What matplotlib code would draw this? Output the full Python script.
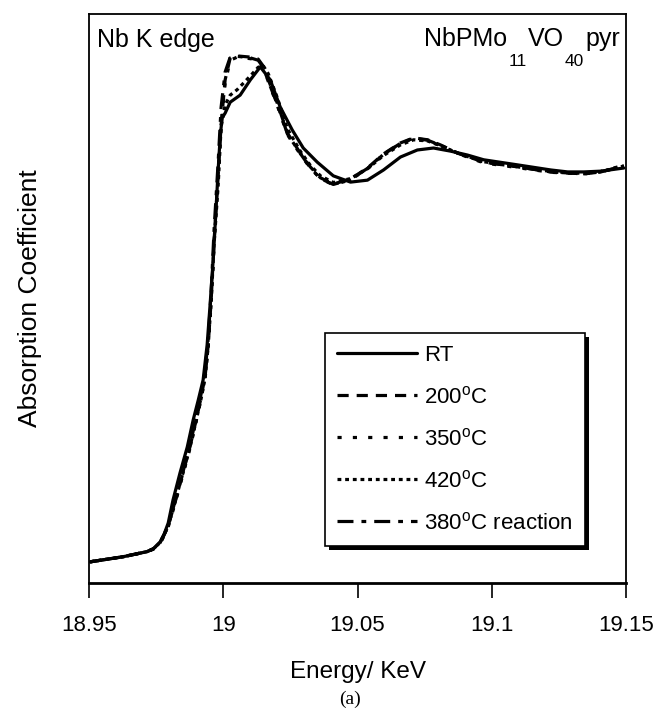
import matplotlib
matplotlib.use("Agg")
import matplotlib.pyplot as plt
from matplotlib.patches import Rectangle
from matplotlib.transforms import IdentityTransform

plt.rcParams['font.family'] = ['Liberation Sans', 'DejaVu Sans']
plt.rcParams['mathtext.fontset'] = 'custom'
plt.rcParams['mathtext.rm'] = 'Liberation Sans'
plt.rcParams['mathtext.it'] = 'Liberation Sans:italic'
plt.rcParams['mathtext.bf'] = 'Liberation Sans:bold'

# ---------------- data (energy in keV, normalised absorption) ----------------
energy_rt = [18.9504, 18.9627, 18.9716, 18.9739, 18.9765, 18.9780, 18.9795, 18.9813,
             18.9839, 18.9866, 18.9888, 18.9907, 18.9925, 18.9940, 18.9951, 18.9963,
             18.9974, 18.9981, 18.9989, 18.9996, 19.0007, 19.0026, 19.0063, 19.0101,
             19.0138, 19.0175, 19.0212, 19.0257, 19.0298, 19.0350, 19.0410, 19.0474,
             19.0537, 19.0597, 19.0660, 19.0723, 19.0783, 19.0847, 19.0910, 19.0970,
             19.1096, 19.1220, 19.1283, 19.1343, 19.1406, 19.1492]
mu_rt = [0.000, 0.013, 0.026, 0.033, 0.051, 0.071, 0.099, 0.158,
         0.227, 0.293, 0.362, 0.413, 0.464, 0.554, 0.656, 0.776,
         0.911, 1.000, 1.089, 1.133, 1.145, 1.173, 1.191, 1.230,
         1.263, 1.230, 1.161, 1.102, 1.056, 1.020, 0.985, 0.969,
         0.974, 1.000, 1.033, 1.051, 1.056, 1.048, 1.038, 1.026,
         1.013, 1.000, 0.995, 0.995, 0.997, 1.005]

energy_hot = [18.9504, 18.9627, 18.9716, 18.9739, 18.9765, 18.9780, 18.9795, 18.9821,
              18.9851, 18.9877, 18.9899, 18.9918, 18.9933, 18.9944, 18.9955, 18.9966,
              18.9981, 18.9992, 19.0007, 19.0026, 19.0052, 19.0101, 19.0130, 19.0149,
              19.0168, 19.0201, 19.0239, 19.0287, 19.0324, 19.0362, 19.0410, 19.0474,
              19.0537, 19.0597, 19.0660, 19.0709, 19.0761, 19.0809, 19.0873, 19.0970,
              19.1096, 19.1220, 19.1343, 19.1406, 19.1492]
mu_200 = [0.000, 0.013, 0.026, 0.033, 0.048, 0.069, 0.092, 0.153, 0.230, 0.296,
          0.362, 0.421, 0.477, 0.554, 0.668, 0.821, 0.987, 1.115, 1.230, 1.286,
          1.291, 1.288, 1.283, 1.265, 1.230, 1.171, 1.094, 1.043, 1.008, 0.980,
          0.964, 0.977, 1.005, 1.041, 1.069, 1.082, 1.077, 1.064, 1.043, 1.020,
          1.008, 0.995, 0.990, 0.995, 1.010]
mu_350 = [0.000, 0.013, 0.026, 0.032, 0.047, 0.067, 0.089, 0.150, 0.226, 0.292,
          0.358, 0.418, 0.474, 0.550, 0.662, 0.815, 0.980, 1.108, 1.222, 1.280,
          1.288, 1.284, 1.280, 1.262, 1.225, 1.165, 1.090, 1.040, 1.005, 0.978,
          0.962, 0.975, 1.003, 1.040, 1.068, 1.080, 1.075, 1.062, 1.042, 1.018,
          1.006, 0.994, 0.990, 0.996, 1.012]
mu_420 = [0.000, 0.013, 0.026, 0.033, 0.049, 0.070, 0.092, 0.155, 0.229, 0.295,
          0.360, 0.418, 0.472, 0.552, 0.664, 0.812, 0.960, 1.110, 1.166, 1.191,
          1.205, 1.240, 1.262, 1.266, 1.245, 1.185, 1.105, 1.048, 1.012, 0.985,
          0.968, 0.978, 1.003, 1.037, 1.064, 1.077, 1.074, 1.062, 1.043, 1.021,
          1.009, 0.996, 0.991, 0.996, 1.010]
mu_380r = [0.000, 0.013, 0.026, 0.033, 0.049, 0.070, 0.091, 0.156, 0.232, 0.300,
           0.368, 0.430, 0.490, 0.570, 0.690, 0.850, 1.020, 1.160, 1.250, 1.288,
           1.290, 1.286, 1.280, 1.262, 1.226, 1.168, 1.092, 1.042, 1.006, 0.978,
           0.963, 0.976, 1.004, 1.040, 1.068, 1.081, 1.076, 1.063, 1.043, 1.020,
           1.008, 0.995, 0.990, 0.995, 1.010]

xticks = [18.95, 19.0, 19.05, 19.1, 19.15]
xtick_labels = ["18.95", "19", "19.05", "19.1", "19.15"]

series = [
    ("RT", energy_rt, mu_rt, "-"),
    ("200$^{\\mathrm{o}}$C", energy_hot, mu_200, (0, (3.5, 2.5))),
    ("350$^{\\mathrm{o}}$C", energy_hot, mu_350, (0, (1.3, 3.5))),
    ("420$^{\\mathrm{o}}$C", energy_hot, mu_420, (0, (1.2, 1.2))),
    ("380$^{\\mathrm{o}}$C reaction", energy_hot, mu_380r, (0, (5, 2.5, 1.5, 2.5))),
]

# ---------------- figure ----------------
W, H = 657, 710
fig = plt.figure(figsize=(W / 100, H / 100), dpi=100)
ax = fig.add_axes([89 / W, 1 - 583 / H, 537 / W, 569 / H])

for label, e, m, ls in series:
    ax.plot(e, m, color="black", lw=2.3, linestyle=ls, label=label,
            dash_capstyle="butt", solid_capstyle="round", solid_joinstyle="round")

ax.set_xlim(18.95, 19.15)
ax.set_ylim(-0.054, 1.398)
ax.set_xticks(xticks)
ax.set_xticklabels(xtick_labels, fontsize=16)
ax.set_yticks([])
ax.tick_params(axis="x", direction="out", length=11, width=1.2, pad=12)
for sp in ax.spines.values():
    sp.set_linewidth(1.3)
ax.spines["bottom"].set_linewidth(2.0)

ax.set_xlabel("Energy/ KeV", fontsize=17.5, labelpad=18)
ax.set_ylabel("Absorption Coefficient", fontsize=19, labelpad=34)

ax.text(0.015, 0.955, "Nb K edge", transform=ax.transAxes, fontsize=18,
        ha="left", va="center")

leg = ax.legend(loc="upper left", bbox_to_anchor=(0.4395, 0.4394),
                fontsize=16, frameon=True, fancybox=False, edgecolor="black",
                facecolor="white", framealpha=1.0,
                handlelength=3.6, handletextpad=0.3, labelspacing=0.9,
                borderpad=0.55, borderaxespad=0.0)
leg.get_frame().set_linewidth(1.2)
leg.set_zorder(6)

fig.text(350 / W, 1 - 699 / H, "(a)", fontsize=14, ha="center", va="center",
         family=["Liberation Serif", "DejaVu Serif"])

# compound label with low subscripts, laid out right to left in pixel coordinates
fig.canvas.draw()
renderer = fig.canvas.get_renderer()
pieces = [("NbPMo", False), ("11", True), ("VO", False), ("40", True), ("pyr", False)]
x_right = 620.0
base_main = H - 46
base_sub = H - 66
for txt, is_sub in reversed(pieces):
    t = fig.text(x_right, base_sub if is_sub else base_main, txt,
                 transform=IdentityTransform(), ha="right", va="baseline",
                 fontsize=12.5 if is_sub else 18)
    bb = t.get_window_extent(renderer)
    x_right = bb.x0 - 1

# offset shadow behind the legend box
bb = leg.get_window_extent(renderer).transformed(ax.transAxes.inverted())
dx = 4 / 537
dy = 4 / 569
shadow = Rectangle((bb.x0 + dx, bb.y0 - dy), bb.width, bb.height,
                   transform=ax.transAxes, facecolor="black", edgecolor="none",
                   zorder=5.5)
ax.add_patch(shadow)

fig.savefig("out.png", dpi=100)
